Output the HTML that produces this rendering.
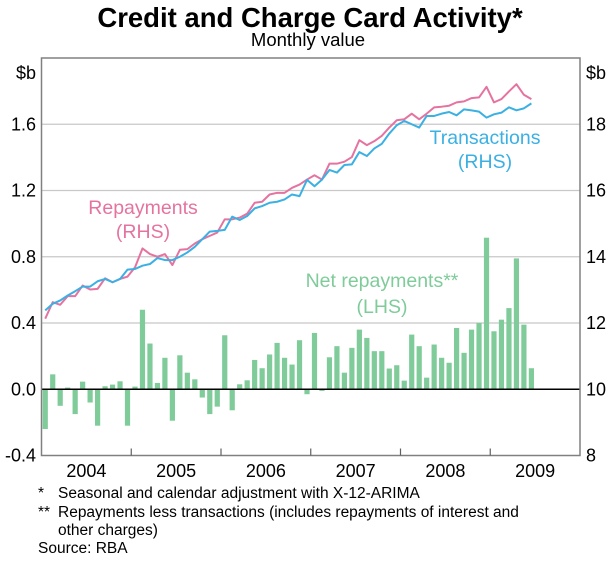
<!DOCTYPE html>
<html><head><meta charset="utf-8"><style>
body{margin:0;background:#fff;}
svg text{font-family:"Liberation Sans",Arial,sans-serif;}
</style></head><body>
<svg id="chart" width="611" height="558" viewBox="0 0 611 558" xmlns="http://www.w3.org/2000/svg">
<text x="310" y="27" text-anchor="middle" font-size="27.5" font-weight="bold">Credit and Charge Card Activity*</text>
<text x="308" y="46" text-anchor="middle" font-size="18.5">Monthly value</text>
<g id="grid"></g>
<g id="bars"></g>
<g id="lines"></g>
<g id="axes"></g>
<text x="143" y="214" text-anchor="middle" font-size="19.5" fill="#e573a0">Repayments</text>
<text x="143" y="238" text-anchor="middle" font-size="19.5" fill="#e573a0">(RHS)</text>
<text x="485" y="144" text-anchor="middle" font-size="19.5" fill="#3bb0e3">Transactions</text>
<text x="485" y="168" text-anchor="middle" font-size="19.5" fill="#3bb0e3">(RHS)</text>
<text x="382" y="287" text-anchor="middle" font-size="19.5" fill="#7fcb9a">Net repayments**</text>
<text x="382" y="313" text-anchor="middle" font-size="19.5" fill="#7fcb9a">(LHS)</text>
<g font-size="15.5">
<text x="38" y="498">*</text><text x="58" y="498">Seasonal and calendar adjustment with X-12-ARIMA</text>
<text x="38" y="517">**</text><text x="58" y="517">Repayments less transactions (includes repayments of interest and</text>
<text x="58" y="535">other charges)</text>
<text x="38" y="553">Source: RBA</text>
</g>
</svg>
<script>
const years=["2004","2005","2006","2007","2008","2009"];
const leftTicks=[-0.4,0.0,0.4,0.8,1.2,1.6];
const rightTicks=[8,10,12,14,16,18];
const netRepayments=[-0.24,0.09,-0.10,0.01,-0.15,0.046,-0.08,-0.22,0.018,0.028,0.048,-0.22,
0.016,0.48,0.276,0.038,0.19,-0.19,0.205,0.10,0.06,-0.05,-0.15,-0.105,
0.326,-0.127,0.03,0.054,0.177,0.127,0.21,0.28,0.19,0.149,0.296,-0.03,
0.34,-0.01,0.193,0.26,0.10,0.25,0.36,0.31,0.23,0.23,0.125,0.145,
0.052,0.33,0.26,0.07,0.27,0.19,0.16,0.37,0.22,0.36,0.40,0.915,
0.35,0.42,0.49,0.79,0.39,0.127];
const repayments=[12.13,12.63,12.55,12.81,12.81,13.13,13.01,13.03,13.35,13.23,13.33,13.40,
13.68,14.25,14.08,14.0,14.08,13.75,14.21,14.23,14.40,14.53,14.63,14.73,
15.13,15.13,15.18,15.30,15.63,15.66,15.88,15.93,15.93,16.08,16.18,16.33,
16.46,16.33,16.81,16.81,16.87,17.01,17.52,17.37,17.49,17.65,17.90,18.12,
18.15,18.32,18.15,18.32,18.51,18.53,18.56,18.66,18.69,18.79,18.81,19.13,
18.66,18.76,18.99,19.21,18.89,18.76];
const transactions=[12.38,12.58,12.68,12.83,12.96,13.10,13.10,13.26,13.33,13.23,13.33,13.61,
13.63,13.73,13.78,13.96,13.90,13.90,14.0,14.13,14.30,14.53,14.76,14.78,
14.81,15.21,15.11,15.23,15.46,15.53,15.63,15.66,15.73,15.88,15.83,16.32,
16.13,16.33,16.62,16.54,16.77,16.79,17.16,17.04,17.27,17.41,17.72,17.97,
18.10,18.0,17.90,18.25,18.25,18.32,18.37,18.27,18.45,18.42,18.38,18.20,
18.30,18.35,18.51,18.42,18.48,18.63];

const L=41.5,R=580,T=58,B=455.5,NM=72,mw=(R-L)/NM;
const xM=m=>L+(m+0.5)*mw;
const yL=v=>B-(v+0.4)/2.4*(B-T);
const yR=v=>B-(v-8)/12*(B-T);
const NS="http://www.w3.org/2000/svg";
function mk(tag,attrs,parent,txt){const e=document.createElementNS(NS,tag);for(const k in attrs)e.setAttribute(k,attrs[k]);if(txt!==undefined)e.textContent=txt;document.getElementById(parent).appendChild(e);return e;}

leftTicks.forEach((v,i)=>{
  if(v!==0&&v!==-0.4){const g=mk('line',{x1:L,x2:R,y1:yL(v),y2:yL(v),stroke:'#c8c8c8','stroke-width':1.3},'grid');
  
  }
  const t=mk('text',{x:36,y:yL(v)+6,'text-anchor':'end','font-size':18},'axes',v.toFixed(1));
  
  
});
rightTicks.forEach(v=>{
  const t=mk('text',{x:586,y:yR(v)+6,'font-size':18},'axes',String(v));
  
  
});
let u1=mk('text',{x:36,y:79,'text-anchor':'end','font-size':18},'axes','$b');


let u2=mk('text',{x:586,y:79,'font-size':18},'axes','$b');



netRepayments.forEach((v,m)=>{
  const y0=yL(0),y1=yL(v);
  const b=mk('rect',{x:xM(m)-2.6,y:Math.min(y0,y1),width:5.2,height:Math.abs(y1-y0),fill:'#7fcb9a'},'bars');
  
  
});
function line(arr,color,name){
  const p=mk('polyline',{points:arr.map((v,m)=>xM(m)+','+yR(v)).join(' '),fill:'none',stroke:color,'stroke-width':2,'stroke-linejoin':'round'},'lines');
  
  
}
line(repayments,'#e573a0','repayments-line');
line(transactions,'#3bb0e3','transactions-line');

let z=mk('line',{x1:L,x2:R,y1:yL(0),y2:yL(0),stroke:'#000','stroke-width':1.5},'axes');


let fr=mk('rect',{x:L,y:T,width:R-L,height:B-T,fill:'none',stroke:'#808080','stroke-width':1.5},'axes');


years.forEach((y,i)=>{
  if(i>0){const tk=mk('line',{x1:L+i*12*mw,x2:L+i*12*mw,y1:B,y2:B-7,stroke:'#606060','stroke-width':1.2},'axes');
  
  }
  const t=mk('text',{x:L+(i*12+6)*mw,y:477,'text-anchor':'middle','font-size':18},'axes',y);
  
  
});
</script>
</body></html>
